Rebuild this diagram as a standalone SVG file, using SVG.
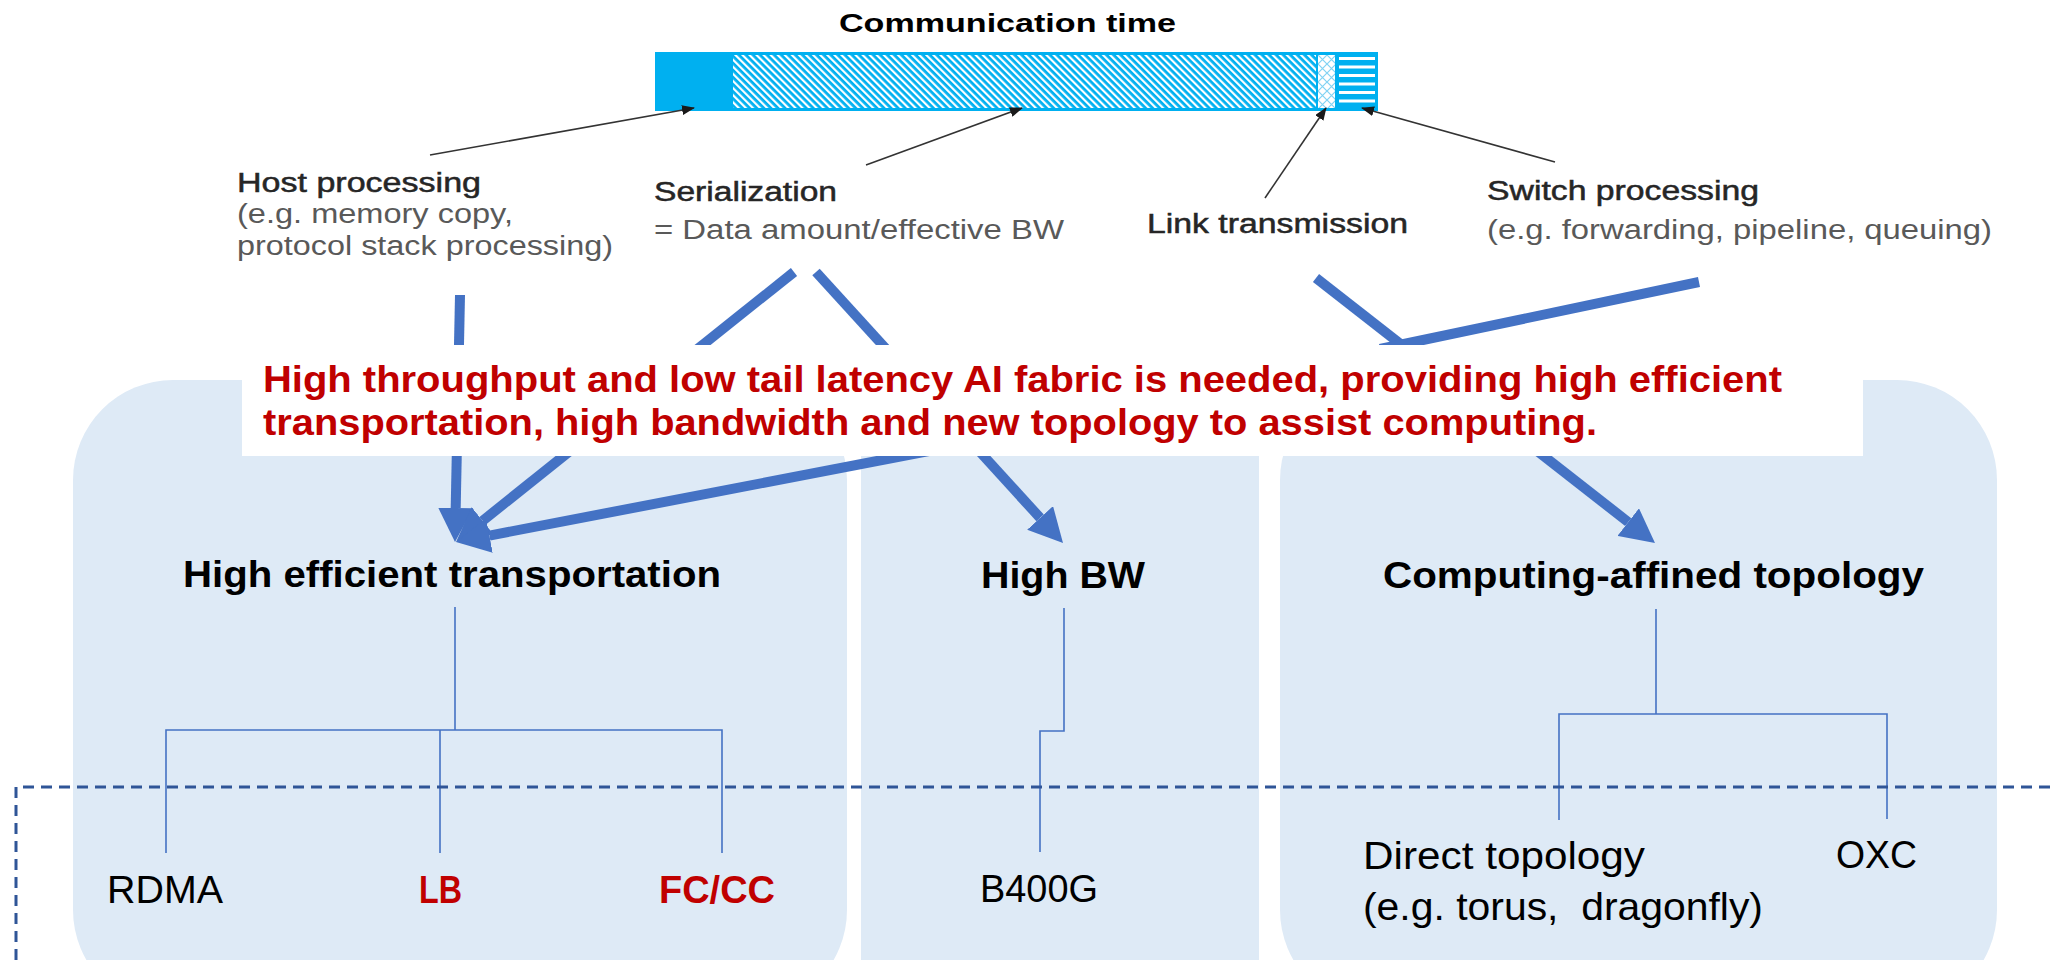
<svg xmlns="http://www.w3.org/2000/svg" width="2057" height="960" viewBox="0 0 2057 960">
<defs>
<style>
.panel{fill:#DEEAF6}
.thick{stroke:#4472C4;stroke-width:10;fill:none}
.thin{stroke:#4472C4;stroke-width:1.6;fill:none}
.ptr{stroke:#333;stroke-width:1.6;fill:none}
.dash{stroke:#2F5597;stroke-width:3;fill:none;stroke-dasharray:11 7}
.hd{font-family:"Liberation Sans",Arial,sans-serif;font-size:27px;fill:#262626;stroke:#262626;stroke-width:0.5}
.sub{font-family:"Liberation Sans",Arial,sans-serif;font-size:27px;fill:#595959}
.red{font-family:"Liberation Sans",Arial,sans-serif;font-size:37px;font-weight:bold;fill:#C00000}
.big{font-family:"Liberation Sans",Arial,sans-serif;font-size:37px;font-weight:bold;fill:#000}
.leaf{font-family:"Liberation Sans",Arial,sans-serif;font-size:39px;fill:#000}
.leafr{font-family:"Liberation Sans",Arial,sans-serif;font-size:39px;font-weight:bold;fill:#C00000}
.title{font-family:"Liberation Sans",Arial,sans-serif;font-size:25px;font-weight:bold;fill:#000}
</style>
<marker id="bigArrow" markerUnits="userSpaceOnUse" viewBox="0 0 34 35" markerWidth="34" markerHeight="35" refX="0" refY="17.5" orient="auto">
<path d="M0,0 L34,17.5 L0,35 z" fill="#4472C4"/>
</marker>
<marker id="smallArrow" markerUnits="userSpaceOnUse" viewBox="0 0 13 10" markerWidth="13" markerHeight="10" refX="12" refY="5" orient="auto">
<path d="M0,0 L13,5 L0,10 z" fill="#1a1a1a"/>
</marker>
<pattern id="diag" patternUnits="userSpaceOnUse" width="5" height="5" patternTransform="rotate(-45)">
<rect width="5" height="5" fill="#00B0F0"/>
<rect width="2.2" height="5" fill="#ffffff"/>
</pattern>
<pattern id="cross" patternUnits="userSpaceOnUse" width="9" height="9" x="1318" y="55">
<rect width="9" height="9" fill="#ffffff"/>
<path d="M0,0 L9,9 M9,0 L0,9" stroke="#7fd3f4" stroke-width="1.2"/>
</pattern>
</defs>

<!-- background panels -->
<g id="panel-left"><rect class="panel" x="73" y="380" width="774" height="630" rx="100"/></g>
<g id="panel-middle"><rect class="panel" x="861" y="380" width="398" height="630" rx="20"/></g>
<g id="panel-right"><rect class="panel" x="1280" y="380" width="717" height="630" rx="100"/></g>

<!-- communication time bar -->
<g id="bar">
<text class="title" x="839" y="32" textLength="337" lengthAdjust="spacingAndGlyphs">Communication time</text>
<rect x="655" y="52" width="723" height="59" fill="#00B0F0"/>
<rect x="733" y="55" width="583" height="53" fill="url(#diag)"/>
<rect x="1318" y="55" width="17" height="53" fill="url(#cross)"/>
<g fill="#ffffff">
<rect x="1339" y="57" width="36" height="3"/>
<rect x="1339" y="65.5" width="36" height="3"/>
<rect x="1339" y="74" width="36" height="3"/>
<rect x="1339" y="82.5" width="36" height="3"/>
<rect x="1339" y="91" width="36" height="3"/>
<rect x="1339" y="99.5" width="36" height="3"/>
</g>
</g>

<!-- connectors -->
<g id="connectors">
<path class="ptr" d="M430,155 L694,108" marker-end="url(#smallArrow)"/>
<path class="ptr" d="M866,165 L1022,108" marker-end="url(#smallArrow)"/>
<path class="ptr" d="M1265,198 L1326,108" marker-end="url(#smallArrow)"/>
<path class="ptr" d="M1555,162 L1362,108" marker-end="url(#smallArrow)"/>

<path class="thick" d="M460,295 L455.7,508" marker-end="url(#bigArrow)"/>
<path class="thick" d="M794,272 L482.6,520.8" marker-end="url(#bigArrow)"/>
<path class="thick" d="M816,272 L1040.1,517.9" marker-end="url(#bigArrow)"/>
<path class="thick" d="M1316,278 L1628.2,522.1" marker-end="url(#bigArrow)"/>
<path class="thick" d="M1699,282 L1380,349"/>
<path class="thick" d="M1454,350 L489.4,535.6" marker-end="url(#bigArrow)"/>

<path class="thin" d="M455,607 V730 M166,853 V730 H722 V853 M440,730 V853"/>
<path class="thin" d="M1064,608 V731 H1040 V852"/>
<path class="thin" d="M1656,609 V714 M1559,820 V714 H1887 V819"/>

<path class="dash" d="M16,960 V787 H2060"/>
</g>

<!-- summary box -->
<g id="summary">
<rect x="242" y="345" width="1621" height="111" fill="#ffffff"/>
<text class="red" x="263" y="392" textLength="1519" lengthAdjust="spacingAndGlyphs">High throughput and low tail latency AI fabric is needed, providing high efficient</text>
<text class="red" x="263" y="435" textLength="1334" lengthAdjust="spacingAndGlyphs">transportation, high bandwidth and new topology to assist computing.</text>
</g>

<!-- labels -->
<g id="host-processing">
<text class="hd" x="237" y="192" textLength="244" lengthAdjust="spacingAndGlyphs">Host processing</text>
<text class="sub" x="237" y="223" textLength="276" lengthAdjust="spacingAndGlyphs">(e.g. memory copy,</text>
<text class="sub" x="237" y="255" textLength="376" lengthAdjust="spacingAndGlyphs">protocol stack processing)</text>
</g>
<g id="serialization">
<text class="hd" x="654" y="201" textLength="183" lengthAdjust="spacingAndGlyphs">Serialization</text>
<text class="sub" x="654" y="239" textLength="410" lengthAdjust="spacingAndGlyphs">= Data amount/effective BW</text>
</g>
<g id="link-transmission">
<text class="hd" x="1147" y="233" textLength="261" lengthAdjust="spacingAndGlyphs">Link transmission</text>
</g>
<g id="switch-processing">
<text class="hd" x="1487" y="200" textLength="272" lengthAdjust="spacingAndGlyphs">Switch processing</text>
<text class="sub" x="1487" y="239" textLength="505" lengthAdjust="spacingAndGlyphs">(e.g. forwarding, pipeline, queuing)</text>
</g>

<g id="high-efficient-transportation">
<text class="big" x="183" y="587" textLength="538" lengthAdjust="spacingAndGlyphs">High efficient transportation</text>
</g>
<g id="high-bw">
<text class="big" x="981" y="588" textLength="164" lengthAdjust="spacingAndGlyphs">High BW</text>
</g>
<g id="computing-affined-topology">
<text class="big" x="1383" y="588" textLength="541" lengthAdjust="spacingAndGlyphs">Computing-affined topology</text>
</g>

<g id="rdma"><text class="leaf" x="107" y="903" textLength="116" lengthAdjust="spacingAndGlyphs">RDMA</text></g>
<g id="lb"><text class="leafr" x="419" y="903" textLength="43" lengthAdjust="spacingAndGlyphs">LB</text></g>
<g id="fccc"><text class="leafr" x="659" y="903" textLength="116" lengthAdjust="spacingAndGlyphs">FC/CC</text></g>
<g id="b400g"><text class="leaf" x="980" y="902" textLength="118" lengthAdjust="spacingAndGlyphs">B400G</text></g>
<g id="direct-topology">
<text class="leaf" x="1363" y="869" textLength="282" lengthAdjust="spacingAndGlyphs">Direct topology</text>
<text class="leaf" x="1363" y="920" textLength="400" lengthAdjust="spacingAndGlyphs" xml:space="preserve" style="white-space:pre">(e.g. torus,  dragonfly)</text>
</g>
<g id="oxc"><text class="leaf" x="1836" y="868" textLength="81" lengthAdjust="spacingAndGlyphs">OXC</text></g>
</svg>
